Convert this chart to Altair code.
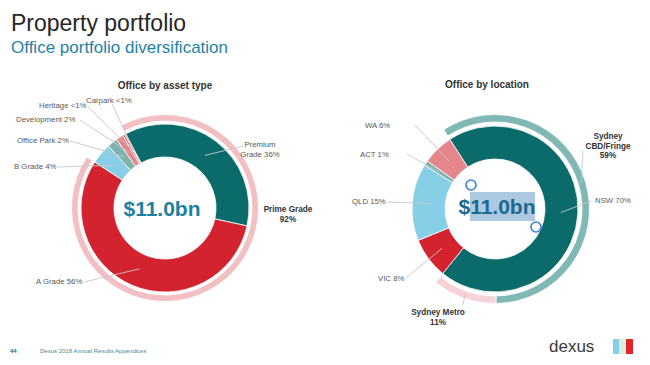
import math
import altair as alt
import pandas as pd

FONT = "Liberation Sans"
OFF = 8  # page margin: chart origin sits at page (8, 8)

# ---------------- data ----------------
# Left donut: office by asset type (inner ring)
asset_names = ["Premium Grade", "A Grade", "B Grade", "Office Park", "Development", "Heritage", "Carpark"]
asset_values = [36.2, 55.8, 4.0, 2.0, 1.4, 0.4, 0.2]
asset_labels = ["Premium\nGrade 36%", "A Grade 56%", "B Grade 4%", "Office Park 2%",
                "Development  2%", "Heritage <1%", "Carpark <1%"]
# Left donut: outer ring
prime_names = ["Prime Grade", "Other"]
prime_values = [92, 8]
prime_labels = ["Prime Grade\n92%", ""]

# Right donut: office by location (inner ring)
loc_names = ["NSW", "VIC", "QLD", "ACT", "WA"]
loc_values = [70, 8, 15, 1, 6]
loc_labels = ["NSW 70%", "VIC 8%", "QLD 15%", "ACT 1%", "WA 6%"]
# Right donut: outer ring (NSW split)
nsw_names = ["Sydney CBD/Fringe", "Sydney Metro", "Other"]
nsw_values = [59, 11, 30]
nsw_labels = ["Sydney\nCBD/Fringe\n59%", "Sydney Metro\n11%", ""]

# ---------------- styles / layout ----------------
TEAL = "#0b6b6b"
RED = "#d2232f"
LBLUE = "#86cfe6"
GTEAL = "#7fb3ae"
PINK = "#e5868c"
asset_colors = [TEAL, RED, LBLUE, GTEAL, PINK, "#e0636b", "#2f8c88"]
prime_colors = ["#f2bfc3", "transparent"]
loc_colors = [TEAL, RED, LBLUE, GTEAL, PINK]
nsw_colors = ["#80b8b6", "#f6d3d8", "transparent"]

# label anchor (page px), alignment, bold, leader-line end (page px or None)
asset_text_xy = [(260, 145), (36, 282), (14, 167), (17, 141), (16, 120), (39, 106), (86, 101)]
asset_align = ["center", "left", "left", "left", "left", "left", "left"]
asset_line_end = [(243, 146), (84, 282), (58, 167), (70, 141), (80, 120), (88, 107), (112, 104)]
prime_text_xy = [(288, 210), None]
prime_line_end = [None, None]
loc_text_xy = [(595, 201), (378, 279), (352, 202), (360, 155), (365, 126)]
loc_align = ["left"] * 5
loc_line_end = [(591, 201), (406, 278), (388, 202), (407, 154), (415, 125)]
nsw_text_xy = [(608, 137), (438, 313), None]
nsw_line_end = [(583, 151), (463, 305), None]


def ring_df(names, values, colors, labels, text_xy, aligns, bolds, line_end):
    rows = []
    for i, n in enumerate(names):
        t = text_xy[i]
        e = line_end[i]
        rows.append({
            "idx": i, "name": n, "value": values[i], "color": colors[i],
            "text": labels[i],
            "tx": (t[0] - OFF) if t else 0, "ty": (t[1] - OFF) if t else 0,
            "align": aligns[i], "bold": bolds[i],
            "has_line": e is not None,
            "ex": (e[0] - OFF) if e else 0, "ey": (e[1] - OFF) if e else 0,
        })
    return pd.DataFrame(rows)


def ring_layers(df, cx, cy, r0, r1, start_deg, lead_r):
    cx -= OFF
    cy -= OFF
    start = math.radians(start_deg)
    base = (
        alt.Chart(df)
        .transform_window(cum="sum(value)", sort=[alt.SortField("idx", order="ascending")])
        .transform_joinaggregate(total="sum(value)")
        .transform_calculate(t1=f"{start} + 2*PI*datum.cum/datum.total")
        .transform_calculate(t0=f"{start} + 2*PI*(datum.cum - datum.value)/datum.total")
        .transform_calculate(mid="(datum.t0 + datum.t1)/2")
        .transform_calculate(px=f"{cx} + {lead_r}*sin(datum.mid)")
        .transform_calculate(py=f"{cy} - {lead_r}*cos(datum.mid)")
    )
    arc = base.mark_arc(innerRadius=r0, outerRadius=r1, stroke="white", strokeWidth=0.8).encode(
        x=alt.value(cx), y=alt.value(cy),
        theta=alt.Theta("t0:Q", scale=None, stack=None),
        theta2=alt.Theta2("t1:Q"),
        color=alt.Color("color:N", scale=None),
    )
    rules = base.transform_filter("datum.has_line").mark_rule(
        color="#c6c6c6", strokeWidth=0.9
    ).encode(
        x=alt.X("px:Q", scale=None, axis=None), y=alt.Y("py:Q", scale=None, axis=None),
        x2="ex:Q", y2="ey:Q",
    )
    layers = [arc, rules]
    for align in ["left", "center"]:
        for bold in [False, True]:
            lay = base.transform_filter(
                f"datum.text != '' && datum.align == '{align}' && datum.bold == {str(bold).lower()}"
            ).mark_text(
                align=align, baseline="middle", font=FONT, lineBreak="\n",
                fontSize=8.2 if bold else 7.8, lineHeight=9.5,
                fontWeight="bold" if bold else "normal",
                color="#333333" if bold else "#595959",
            ).encode(
                x=alt.X("tx:Q", scale=None, axis=None), y=alt.Y("ty:Q", scale=None, axis=None),
                text="text:N",
            )
            layers.append(lay)
    return layers


one = pd.DataFrame({"k": [0]})


def txt(s, x, y, size, color, bold=False, align="left", baseline="middle", font=FONT):
    return alt.Chart(pd.DataFrame({"t": [s]})).mark_text(
        align=align, baseline=baseline, fontSize=size, color=color, font=font,
        fontWeight="bold" if bold else "normal",
    ).encode(x=alt.value(x - OFF), y=alt.value(y - OFF), text="t:N")


def box(x0, y0, x1, y1, color, opacity=1.0):
    return alt.Chart(one).mark_rect(color=color, opacity=opacity).encode(
        x=alt.value(x0 - OFF), x2=alt.value(x1 - OFF), y=alt.value(y0 - OFF), y2=alt.value(y1 - OFF)
    )


layers = []
# headings
layers.append(txt("Property portfolio", 11, 31, 23, "#262626", baseline="alphabetic"))
layers.append(txt("Office portfolio diversification", 11, 53, 17, "#1f82a6", baseline="alphabetic"))
layers.append(txt("Office by asset type", 165, 86, 10, "#333333", bold=True, align="center"))
layers.append(txt("Office by location", 487, 85, 10, "#333333", bold=True, align="center"))

# left donut
df_asset = ring_df(asset_names, asset_values, asset_colors, asset_labels,
                   asset_text_xy, asset_align, [False] * 7, asset_line_end)
df_prime = ring_df(prime_names, prime_values, prime_colors, prime_labels,
                   prime_text_xy, ["center", "center"], [True, True], prime_line_end)
layers += ring_layers(df_prime, 165, 208, 87, 93.5, -28, 90)
layers += ring_layers(df_asset, 165, 208, 51, 84, -28, 66)

# right donut
df_loc = ring_df(loc_names, loc_values, loc_colors, loc_labels,
                 loc_text_xy, loc_align, [False] * 5, loc_line_end)
df_nsw = ring_df(nsw_names, nsw_values, nsw_colors, nsw_labels,
                 nsw_text_xy, ["center"] * 3, [True] * 3, nsw_line_end)
layers += ring_layers(df_nsw, 495, 209, 87, 94.5, -33, 90)
layers += ring_layers(df_loc, 495, 209, 50, 83, -33, 66)

# centre values
layers.append(txt("$11.0bn", 162, 210, 21, "#1d80a3", bold=True, align="center"))
layers.append(box(470, 192, 535, 221, "#a9c6e0", 0.95))
layers.append(txt("$11.0bn", 497, 208, 21, "#1a6a90", bold=True, align="center"))
circles = pd.DataFrame({"px": [471 - OFF, 536 - OFF], "py": [185 - OFF, 227 - OFF]})
layers.append(alt.Chart(circles).mark_point(
    shape="circle", size=100, filled=True, fill="white", stroke="#3a7fd6", strokeWidth=1.6, opacity=1
).encode(x=alt.X("px:Q", scale=None, axis=None), y=alt.Y("py:Q", scale=None, axis=None)))

# footer
layers.append(txt("44", 10, 351, 6, "#1a6e6e", bold=True))
layers.append(txt("Dexus 2018 Annual Results Appendices", 40, 351, 6, "#3f8a9a"))
layers.append(txt("dexus", 549, 352, 17, "#3a3a3a", baseline="alphabetic"))
layers.append(box(613, 339, 619, 354, "#86cfe6"))
layers.append(box(619, 339, 626, 354, "#dcefdc"))
layers.append(box(626, 339, 633, 354, "#e0262a"))

chart = alt.layer(*layers).properties(
    width=634, height=349,
    autosize=alt.AutoSizeParams(type="none"),
    padding=0,
    background="white",
).configure_view(stroke=None)

chart.save("out.html", embed_options={"renderer": "svg", "actions": False})
